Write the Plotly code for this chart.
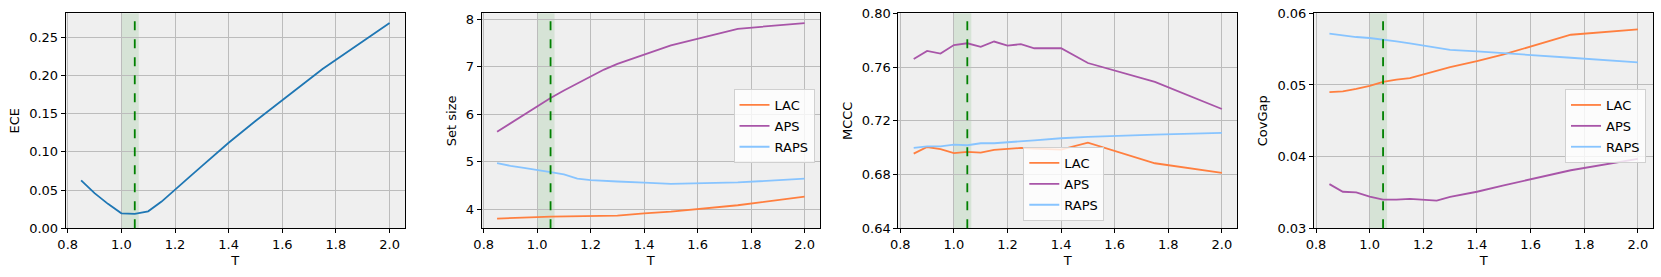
import plotly.graph_objects as go

T = [0.85, 0.9, 0.95, 1.0, 1.05, 1.1, 1.15, 1.2, 1.25, 1.3, 1.4, 1.5, 1.75, 2.0]

ece = [0.0628, 0.046, 0.032, 0.0196, 0.0188, 0.0222, 0.035, 0.051, 0.066, 0.0815, 0.112, 0.1405, 0.2085, 0.2688]

setsize_lac = [3.80, 3.815, 3.82, 3.83, 3.84, 3.845, 3.85, 3.85, 3.855, 3.86, 3.91, 3.945, 4.08, 4.26]
setsize_aps = [5.63, 5.81, 5.99, 6.16, 6.34, 6.50, 6.65, 6.80, 6.94, 7.06, 7.256, 7.45, 7.80, 7.92]
setsize_raps = [4.968, 4.91, 4.87, 4.83, 4.78, 4.73, 4.64, 4.61, 4.59, 4.58, 4.555, 4.53, 4.56, 4.64]

mccc_lac = [0.6956, 0.7005, 0.699, 0.696, 0.6968, 0.6963, 0.6983, 0.699, 0.6998, 0.6993, 0.6985, 0.7037, 0.6884, 0.6812]
mccc_aps = [0.766, 0.772, 0.770, 0.7764, 0.7777, 0.775, 0.779, 0.776, 0.777, 0.774, 0.774, 0.763, 0.749, 0.7288]
mccc_raps = [0.6998, 0.701, 0.701, 0.7023, 0.7018, 0.7033, 0.7033, 0.7042, 0.7047, 0.7055, 0.707, 0.708, 0.7097, 0.711]

covgap_lac = [0.04899, 0.0491, 0.04945, 0.04988, 0.05044, 0.05076, 0.05095, 0.05146, 0.05207, 0.0525, 0.05333, 0.05426, 0.05701, 0.05776]
covgap_aps = [0.03616, 0.0351, 0.0350, 0.03443, 0.03401, 0.0340, 0.0341, 0.0340, 0.03387, 0.0344, 0.0351, 0.0360, 0.0381, 0.0397]
covgap_raps = [0.05715, 0.05687, 0.05669, 0.05655, 0.05636, 0.05608, 0.0558, 0.05552, 0.05524, 0.0549, 0.05468, 0.0544, 0.0538, 0.05314]

methods = ["LAC", "APS", "RAPS"]
colors = {"LAC": "#ff7f3f", "APS": "#a855a8", "RAPS": "#87c4ff"}

T_opt = 1.05
span = [1.0, 1.065]

W, H = 1661, 277
FONT = "DejaVu Sans"
FS = 13

# pixel domains
xdoms = [(65.7, 405.0), (481.7, 820.0), (898.3, 1237.3), (1314.0, 1653.3)]
ytop, ybot = 13.3, 228.3
ydom = [(H - ybot) / H, (H - ytop) / H]

fig = go.Figure()

panels = [
    dict(ylabel="ECE", yrange=[0, 0.2815], tickvals=[0, 0.05, 0.10, 0.15, 0.20, 0.25], fmt=".2f",
         series=[("ECE", ece, "#1f77b4")], legend=None),
    dict(ylabel="Set size", yrange=[3.594, 8.126], tickvals=[4, 5, 6, 7, 8], fmt="d",
         series=[("LAC", setsize_lac, colors["LAC"]), ("APS", setsize_aps, colors["APS"]), ("RAPS", setsize_raps, colors["RAPS"])],
         legend=dict(x=814.5 / W, y=(H - 89) / H, xanchor="right", yanchor="top")),
    dict(ylabel="MCCC", yrange=[0.64, 0.80], tickvals=[0.64, 0.68, 0.72, 0.76, 0.80], fmt=".2f",
         series=[("LAC", mccc_lac, colors["LAC"]), ("APS", mccc_aps, colors["APS"]), ("RAPS", mccc_raps, colors["RAPS"])],
         legend=dict(x=1023.3 / W, y=(H - 221) / H, xanchor="left", yanchor="bottom")),
    dict(ylabel="CovGap", yrange=[0.03, 0.06], tickvals=[0.03, 0.04, 0.05, 0.06], fmt=".2f",
         series=[("LAC", covgap_lac, colors["LAC"]), ("APS", covgap_aps, colors["APS"]), ("RAPS", covgap_raps, colors["RAPS"])],
         legend=dict(x=1646 / W, y=(H - 89) / H, xanchor="right", yanchor="top")),
]

layout = dict(
    width=W, height=H,
    margin=dict(l=0, r=0, t=0, b=0, autoexpand=False),
    paper_bgcolor="white",
    plot_bgcolor="#efefef",
    font=dict(family=FONT, size=FS, color="black"),
    showlegend=True,
)

for i, p in enumerate(panels):
    k = "" if i == 0 else str(i + 1)
    xa, ya = "x" + k, "y" + k
    legname = "legend" if i <= 1 else "legend" + str(i)
    for name, vals, col in p["series"]:
        fig.add_trace(go.Scatter(
            x=T, y=vals, mode="lines", name=name,
            line=dict(color=col, width=1.8),
            xaxis=xa, yaxis=ya,
            showlegend=p["legend"] is not None,
            legend=legname,
            legendgroup=f"{name}_{i}",
        ))
    x0, x1 = xdoms[i]
    axstyle = dict(showline=True, linecolor="black", linewidth=1, mirror=True,
                   ticks="outside", ticklen=4, tickwidth=1, tickcolor="black",
                   showgrid=True, gridcolor="#bcbcbc", gridwidth=1, zeroline=False,
                   automargin=False,
                   tickfont=dict(family=FONT, size=FS, color="black"))
    layout["xaxis" + k] = dict(
        domain=[x0 / W, x1 / W], anchor=ya, range=[0.7925, 2.0575],
        tickvals=[0.8, 1.0, 1.2, 1.4, 1.6, 1.8, 2.0], tickformat=".1f",
        title=dict(text="T", font=dict(family=FONT, size=FS), standoff=4),
        **axstyle)
    layout["yaxis" + k] = dict(
        domain=ydom, anchor=xa, range=p["yrange"], tickvals=p["tickvals"], tickformat=p["fmt"],
        title=dict(text=p["ylabel"], font=dict(family=FONT, size=FS), standoff=6),
        **axstyle)
    if p["legend"] is not None:
        layout[legname] = dict(
            **p["legend"], xref="paper", yref="paper",
            bgcolor="rgba(255,255,255,0.8)", bordercolor="#d0d0d0", borderwidth=1,
            font=dict(family=FONT, size=FS, color="black"),
            itemwidth=30, tracegroupgap=1, traceorder="grouped",
        )
    # shaded span and dashed optimum line
    fig.add_shape(type="rect", xref=xa, yref=ya + " domain", x0=span[0], x1=span[1], y0=0, y1=1,
                  fillcolor="rgba(0,128,0,0.10)", line=dict(width=0), layer="below")
    fig.add_shape(type="line", xref=xa, yref=ya + " domain", x0=T_opt, x1=T_opt, y0=0, y1=1,
                  line=dict(color="green", width=1.8, dash="dash"), layer="above")

fig.update_layout(**layout)
fig.write_html("out.html", config={"displayModeBar": False},
               post_script="document.body.style.margin='0';document.body.style.padding='0';")
